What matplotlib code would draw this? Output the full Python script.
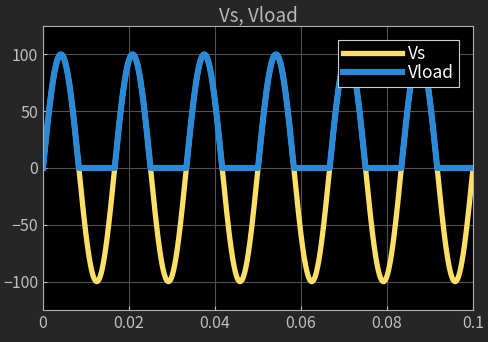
import numpy as np
import matplotlib.pyplot as plt

plt.rcParams['font.family'] = ['Noto Sans CJK JP', 'DejaVu Sans']

# source: 100 V peak, 60 Hz, half-wave rectified across the load
amplitude = 100.0
freq = 60.0
t_end = 0.1
t = np.linspace(0, t_end, 4001)
vs = amplitude * np.sin(2 * np.pi * freq * t)
vload = np.where(vs > 0, vs, 0.0)

xticks = [0, 0.02, 0.04, 0.06, 0.08, 0.1]
xtick_labels = ["0", "0.02", "0.04", "0.06", "0.08", "0.1"]
yticks = [-100, -50, 0, 50, 100]

fg = '#c0c0c0'
fig = plt.figure(figsize=(4.88, 3.42), dpi=100, facecolor='#262626')
ax = fig.add_axes([43 / 488, 32 / 342, 430 / 488, 284 / 342])
ax.set_facecolor('black')

ax.plot(t, vs, color='#ffe066', linewidth=3.8, label='Vs')
ax.plot(t, vload, color='#2a8ad8', linewidth=4.4, label='Vload')

ax.set_xlim(0, t_end)
ax.set_ylim(-125, 125)
ax.set_xticks(xticks)
ax.set_xticklabels(xtick_labels)
ax.set_yticks(yticks)
ax.grid(True, color='#505050', linewidth=0.8)
ax.tick_params(colors=fg, labelsize=11.5, direction='in', length=3)
for s in ax.spines.values():
    s.set_color('#b0b0b0')
    s.set_linewidth(0.8)

ax.set_title('Vs, Vload', color='#b8b8b8', fontsize=13.5, pad=3)

leg = ax.legend(loc='upper right', bbox_to_anchor=(0.968, 0.952), fontsize=12.5,
                facecolor='black', edgecolor='#d0d0d0', framealpha=1,
                handlelength=3.4, borderpad=0.3, labelspacing=0.05,
                handletextpad=0.35, borderaxespad=0, fancybox=False)
leg.get_frame().set_linewidth(0.8)
for txt in leg.get_texts():
    txt.set_color('white')

fig.savefig('out.png', dpi=100, facecolor=fig.get_facecolor())
